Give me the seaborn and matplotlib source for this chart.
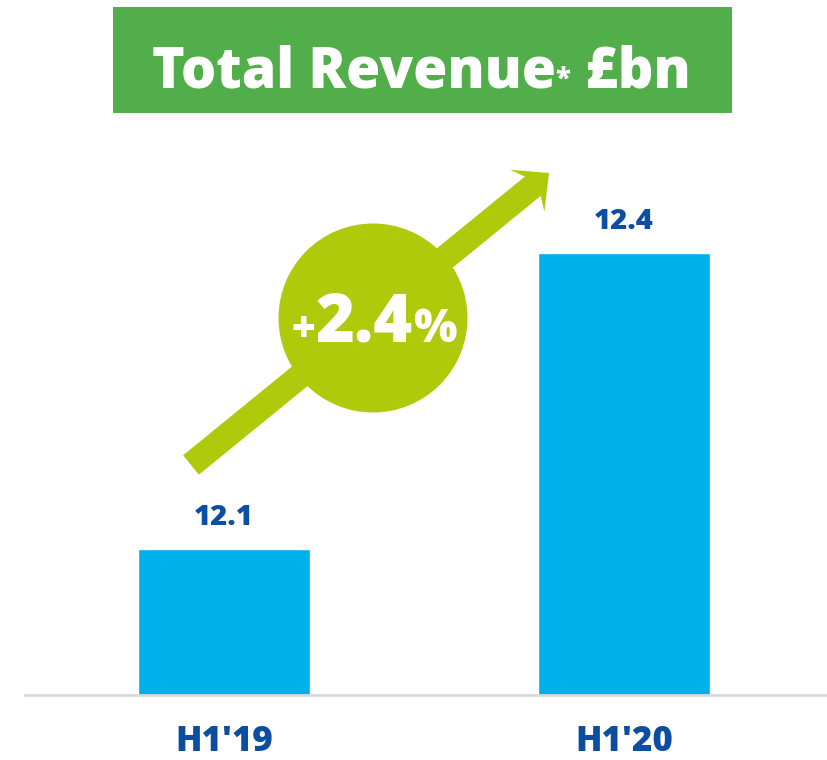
import matplotlib
matplotlib.use("Agg")
import matplotlib.pyplot as plt
import seaborn as sns
from matplotlib.patches import Rectangle, Circle, FancyArrow
from matplotlib.transforms import IdentityTransform

# Data
periods = ["H1'19", "H1'20"]
revenue = [12.1, 12.4]
growth_label = "2.4"

BAR_BLUE = "#00B0EA"
LABEL_BLUE = "#0B4EA2"
TITLE_GREEN = "#52AE4A"
ARROW_GREEN = "#AFCA0B"
FONT = ["Open Sans", "DejaVu Sans"]

sns.set_theme(style="white")
plt.rcParams["font.family"] = FONT

W, H, DPI = 828, 760, 100
fig = plt.figure(figsize=(W / DPI, H / DPI), dpi=DPI)


def fig_px(x, y):
    """Convert top-left pixel coordinates into display coordinates."""
    return x, H - y


# Main bar axes
ax = fig.add_axes([25 / W, 65 / H, 803 / W, 543 / H])
sns.barplot(x=periods, y=revenue, color=BAR_BLUE, width=0.43, saturation=1, ax=ax)
ax.set_xlim(-0.4975, 1.51)
ax.set_ylim(11.952, 12.502)
ax.set_yticks([])
ax.set_xlabel("")
ax.set_ylabel("")
for side in ("top", "right", "left"):
    ax.spines[side].set_visible(False)
ax.spines["bottom"].set_color("#D9D9D9")
ax.spines["bottom"].set_linewidth(2)
ax.tick_params(axis="x", length=0, pad=21, labelsize=25, labelcolor=LABEL_BLUE)
for lbl in ax.get_xticklabels():
    lbl.set_fontweight("heavy")
ax.bar_label(ax.containers[0], fmt="%.1f", padding=12, fontsize=21,
             fontweight="heavy", color=LABEL_BLUE)

# Title banner
x0, y0 = fig_px(113, 113)
fig.add_artist(Rectangle((x0, y0), 619, 106, facecolor=TITLE_GREEN,
                         edgecolor="none", transform=IdentityTransform()))

renderer = fig.canvas.get_renderer()


def compose(parts, cx, base_y):
    """Lay out text runs side by side, centred horizontally on cx."""
    texts = []
    for s, size in parts:
        t = fig.text(0, 0, s, fontsize=size, fontweight="heavy", color="white",
                     transform=IdentityTransform(), ha="left", va="baseline",
                     family=FONT)
        texts.append(t)
    widths = [t.get_window_extent(renderer).width for t in texts]
    x = cx - sum(widths) / 2
    for t, w in zip(texts, widths):
        t.set_position((x, base_y))
        x += w
    return texts


compose([("Total Revenue", 40), ("*", 20), (" £bn", 40)], 421, H - 88)

# Growth arrow with badge
tail_x, tail_y = fig_px(191, 465)
tip_x, tip_y = fig_px(549, 173)
fig.add_artist(FancyArrow(tail_x, tail_y, tip_x - tail_x, tip_y - tail_y,
                          width=25, head_width=54, head_length=28,
                          length_includes_head=True, overhang=0.25,
                          facecolor=ARROW_GREEN, edgecolor="none",
                          transform=IdentityTransform()))
cx, cy = fig_px(373, 318)
fig.add_artist(Circle((cx, cy), 94.5, facecolor=ARROW_GREEN, edgecolor="none",
                      transform=IdentityTransform()))
compose([("+", 30), (growth_label, 48), ("%", 33)], 374, H - 342)

fig.savefig("out.png", dpi=DPI)
